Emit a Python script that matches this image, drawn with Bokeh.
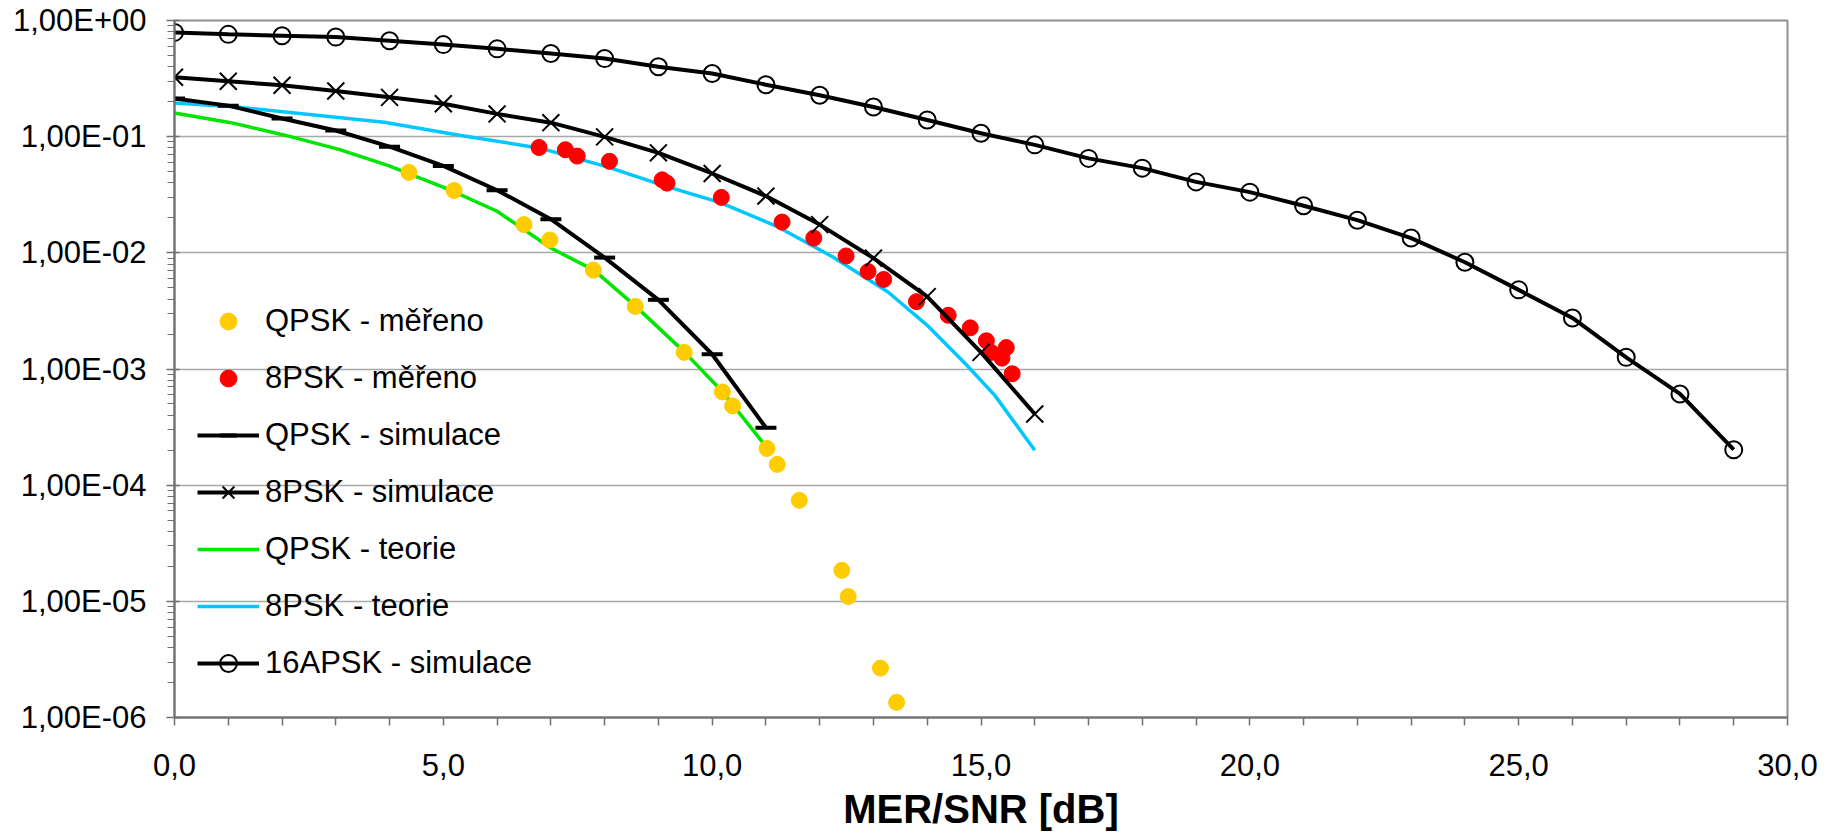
from bokeh.plotting import figure
from bokeh.models import Range1d, FixedTicker, Legend, LegendItem
from bokeh.embed import file_html
from bokeh.resources import INLINE

# ---------------- data ----------------
apsk16_sim_x = list(range(0, 30))
apsk16_sim_y = [0.79, 0.76, 0.74, 0.72, 0.67, 0.62, 0.57, 0.52, 0.47, 0.40,
                0.35, 0.28, 0.227, 0.180, 0.139, 0.107, 0.085, 0.065, 0.0536, 0.0408,
                0.0333, 0.0254, 0.0191, 0.0134, 0.0083, 0.0048, 0.00275, 0.00126, 0.00061, 0.000202]

psk8_sim_x = list(range(0, 17))
psk8_sim_y = [0.325, 0.30, 0.277, 0.247, 0.218, 0.192, 0.157, 0.132, 0.0996, 0.0726,
              0.0482, 0.0308, 0.0175, 0.0090, 0.0042, 0.00139, 0.00041]

qpsk_sim_x = list(range(0, 12))
qpsk_sim_y = [0.213, 0.185, 0.1435, 0.113, 0.082, 0.056, 0.0346, 0.0195, 0.0091,
              0.00394, 0.00134, 0.000312]

qpsk_theory_x = [0, 1.05, 2.05, 3.06, 3.98, 5.1, 6.0, 7.0, 7.8, 8.58, 9.49, 10.2, 10.95]
qpsk_theory_y = [0.160, 0.132, 0.103, 0.0778, 0.0563, 0.0352, 0.0228, 0.011, 0.0071,
                 0.00346, 0.00139, 0.00063, 0.00023]

psk8_theory_x = [0, 1.05, 3.9, 5.3, 6.8, 8.05, 9.1, 10.14, 11.19, 12.23, 13.27, 13.99,
                 14.71, 15.26, 16.0]
psk8_theory_y = [0.195, 0.182, 0.133, 0.103, 0.0796, 0.055, 0.0379, 0.0272, 0.017,
                 0.0093, 0.0046, 0.0024, 0.00111, 0.00059, 0.0002]

qpsk_meas_x = [4.36, 5.2, 6.5, 6.98, 7.79, 8.57, 9.48, 10.19, 10.38, 11.02, 11.21,
               11.62, 12.41, 12.53, 13.13, 13.43]
qpsk_meas_y = [0.0492, 0.0344, 0.0175, 0.0129, 0.0071, 0.00346, 0.00139, 0.000635,
               0.000481, 0.000207, 0.000151, 7.4e-5, 1.85e-5, 1.1e-5, 2.66e-6, 1.35e-6]

psk8_meas_x = [6.78, 7.27, 7.49, 8.09, 9.07, 9.16, 10.17, 11.3, 11.89, 12.49, 12.9,
               13.19, 13.8, 14.39, 14.8, 15.1, 15.19, 15.47, 15.39, 15.58]
psk8_meas_y = [0.0807, 0.0772, 0.068, 0.0614, 0.0425, 0.0398, 0.030, 0.0184, 0.0134,
               0.0094, 0.0069, 0.0059, 0.0038, 0.0029, 0.00226, 0.00175, 0.00139,
               0.00153, 0.00124, 0.00091]

series_names = ["QPSK - měřeno", "8PSK - měřeno", "QPSK - simulace", "8PSK - simulace",
                "QPSK - teorie", "8PSK - teorie", "16APSK - simulace"]

x_tick_values = [0, 5, 10, 15, 20, 25, 30]
x_tick_labels = ["0,0", "5,0", "10,0", "15,0", "20,0", "25,0", "30,0"]
y_tick_values = [1e-6, 1e-5, 1e-4, 1e-3, 1e-2, 1e-1, 1.0]
y_tick_labels = ["1,00E-06", "1,00E-05", "1,00E-04", "1,00E-03", "1,00E-02",
                 "1,00E-01", "1,00E+00"]
x_label = "MER/SNR [dB]"

# ---------------- figure ----------------
FONT = "Liberation Sans"
p = figure(width=1828, height=833, output_backend="svg", toolbar_location=None,
           y_axis_type="log", x_range=Range1d(0, 30), y_range=Range1d(1e-6, 1.0),
           min_border_left=174, min_border_right=41, min_border_top=20,
           min_border_bottom=116)
p.background_fill_color = "white"
p.border_fill_color = "white"
p.outline_line_color = "#909090"
p.outline_line_width = 2

# x axis
x_all = list(range(0, 31))
p.xaxis.ticker = FixedTicker(ticks=x_all)
xover = {t: "" for t in x_all}
for v, l in zip(x_tick_values, x_tick_labels):
    xover[v] = l
p.xaxis.major_label_overrides = xover
p.xaxis.axis_label = x_label
p.xaxis.axis_label_text_font = FONT
p.xaxis.axis_label_text_font_style = "bold"
p.xaxis.axis_label_text_font_size = "40px"
p.xaxis.axis_label_text_color = "black"
p.xaxis.axis_label_standoff = 8
p.xaxis.major_label_text_font = FONT
p.xaxis.major_label_text_font_size = "31px"
p.xaxis.major_label_text_color = "black"
p.xaxis.major_label_standoff = 28
p.xaxis.major_tick_out = 8
p.xaxis.major_tick_in = 0

# y axis
minor = [k * 10.0 ** e for e in range(-6, 0) for k in range(2, 10)]
p.yaxis.ticker = FixedTicker(ticks=y_tick_values, minor_ticks=minor)
p.yaxis.major_label_overrides = dict(zip(y_tick_values, y_tick_labels))
p.yaxis.major_label_text_font = FONT
p.yaxis.major_label_text_font_size = "31px"
p.yaxis.major_label_text_color = "black"
p.yaxis.major_label_standoff = 20
p.yaxis.major_tick_out = 8
p.yaxis.major_tick_in = 5
p.yaxis.minor_tick_out = 7
p.yaxis.minor_tick_in = 0

for ax in (p.xaxis, p.yaxis):
    ax.axis_line_color = "#707070"
    ax.axis_line_width = 2
    ax.major_tick_line_color = "#707070"
    ax.major_tick_line_width = 1.5
    ax.minor_tick_line_color = "#707070"
    ax.minor_tick_line_width = 1
p.xaxis.minor_tick_line_color = None

p.xgrid.visible = False
p.ygrid.grid_line_color = "#a8a8a8"
p.ygrid.grid_line_width = 1.5

# ---------------- glyphs ----------------
r_green = p.line(qpsk_theory_x, qpsk_theory_y, line_color="#00e600", line_width=3.5)
r_cyan = p.line(psk8_theory_x, psk8_theory_y, line_color="#00c8ff", line_width=3.5)

r_yel = p.scatter(qpsk_meas_x, qpsk_meas_y, marker="circle", size=16,
                  fill_color="#ffcc00", line_color="#ffcc00")
r_red = p.scatter(psk8_meas_x, psk8_meas_y, marker="circle", size=16,
                  fill_color="#ff0000", line_color="#ff0000")

r_q_line = p.line(qpsk_sim_x, qpsk_sim_y, line_color="black", line_width=4)
r_q_mark = p.scatter(qpsk_sim_x, qpsk_sim_y, marker="dash", size=21,
                     line_color="black", line_width=4)

r_8_line = p.line(psk8_sim_x, psk8_sim_y, line_color="black", line_width=4)
r_8_mark = p.scatter(psk8_sim_x, psk8_sim_y, marker="x", size=24,
                     line_color="black", line_width=2)

r_16_line = p.line(apsk16_sim_x, apsk16_sim_y, line_color="black", line_width=4)
r_16_mark = p.scatter(apsk16_sim_x, apsk16_sim_y, marker="circle", size=17,
                      fill_alpha=0, line_color="black", line_width=2)

items = [
    LegendItem(label=series_names[0], renderers=[r_yel]),
    LegendItem(label=series_names[1], renderers=[r_red]),
    LegendItem(label=series_names[2], renderers=[r_q_line, r_q_mark]),
    LegendItem(label=series_names[3], renderers=[r_8_line, r_8_mark]),
    LegendItem(label=series_names[4], renderers=[r_green]),
    LegendItem(label=series_names[5], renderers=[r_cyan]),
    LegendItem(label=series_names[6], renderers=[r_16_line, r_16_mark]),
]
legend = Legend(items=items, location=(23, 33), glyph_width=62, glyph_height=42,
                label_height=42, spacing=15, padding=0, margin=0, label_standoff=6,
                border_line_alpha=0, background_fill_alpha=0,
                label_text_font=FONT, label_text_font_size="31px",
                label_text_color="black")
p.add_layout(legend)

open("out.html", "w").write(file_html(p, INLINE))
